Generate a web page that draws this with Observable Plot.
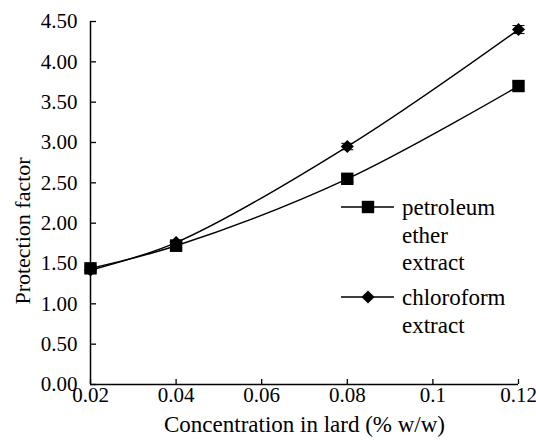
<!DOCTYPE html>
<html><head><meta charset="utf-8">
<script src="https://cdn.jsdelivr.net/npm/d3@7"></script>
<script src="https://cdn.jsdelivr.net/npm/@observablehq/plot@0.6"></script>
<style>
body{margin:0;background:#fff;}
#chart{width:536px;height:444px;}
</style>
</head><body><div id="chart"></div>
<script>
// ---- data ----
const concentrations = [0.02, 0.04, 0.08, 0.12];
const petroleum = [1.44, 1.72, 2.55, 3.70];
const petroleumErr = [0.03, 0.03, 0.04, 0.05];
const chloroform = [1.42, 1.76, 2.95, 4.40];
const chloroformErr = [0.03, 0.03, 0.04, 0.05];
const xTicks = [0.02, 0.04, 0.06, 0.08, 0.1, 0.12];
const xTickLabels = ["0.02", "0.04", "0.06", "0.08", "0.1", "0.12"];
const yTicks = [0, 0.5, 1, 1.5, 2, 2.5, 3, 3.5, 4, 4.5];
const yTickLabels = ["0.00", "0.50", "1.00", "1.50", "2.00", "2.50", "3.00", "3.50", "4.00", "4.50"];
const seriesNames = ["petroleum ether extract", "chloroform extract"];
const legendLines = [["petroleum", "ether", "extract"], ["chloroform", "extract"]];
const xTitle = "Concentration in lard (% w/w)";
const yTitle = "Protection factor";

// ---- table ----
const rows = [];
concentrations.forEach((c, i) => {
  rows.push({series: seriesNames[0], x: c, y: petroleum[i], lo: petroleum[i] - petroleumErr[i], hi: petroleum[i] + petroleumErr[i]});
  rows.push({series: seriesNames[1], x: c, y: chloroform[i], lo: chloroform[i] - chloroformErr[i], hi: chloroform[i] + chloroformErr[i]});
});
const capSymbol = {draw(ctx) { ctx.moveTo(-6, 0); ctx.lineTo(6, 0); }};
const FONT = "'Liberation Serif', serif";

const chart = Plot.plot({
  width: 536, height: 444,
  marginLeft: 90, marginRight: 18, marginTop: 21, marginBottom: 60,
  style: {fontFamily: FONT, fontSize: "21px", color: "#000", background: "#fff", overflow: "visible"},
  x: {domain: [xTicks[0], xTicks[xTicks.length - 1]]},
  y: {domain: [yTicks[0], yTicks[yTicks.length - 1]]},
  marks: [
    Plot.axisY({ticks: yTicks, tickFormat: d => yTickLabels[yTicks.indexOf(d)], tickSize: -6, tickPadding: 19, fontSize: 21, label: null, strokeWidth: 1.3}),
    Plot.axisX({ticks: xTicks, tickFormat: d => xTickLabels[xTicks.indexOf(d)], tickSize: -5, tickPadding: 8, fontSize: 21, label: null, strokeWidth: 1.3}),
    Plot.ruleX([xTicks[0]], {stroke: "#000", strokeWidth: 1.5}),
    Plot.ruleY([yTicks[0]], {stroke: "#000", strokeWidth: 1.5}),
    Plot.line(rows, {x: "x", y: "y", z: "series", curve: "catmull-rom", stroke: "#000", strokeWidth: 1.4}),
    Plot.ruleX(rows, {x: "x", y1: "lo", y2: "hi", stroke: "#000", strokeWidth: 1}),
    Plot.dot(rows, {x: "x", y: "lo", symbol: capSymbol, stroke: "#000", strokeWidth: 1}),
    Plot.dot(rows, {x: "x", y: "hi", symbol: capSymbol, stroke: "#000", strokeWidth: 1}),
    Plot.dot(rows.filter(d => d.series === seriesNames[0]), {x: "x", y: "y", symbol: "square", r: 7, fill: "#000", stroke: "none"}),
    Plot.dot(rows.filter(d => d.series === seriesNames[1]), {x: "x", y: "y", symbol: "diamond2", r: 5.9, fill: "#000", stroke: "none"}),
    Plot.text([yTitle], {text: d => d, frameAnchor: "left", textAnchor: "middle", dx: -68, dy: 28, rotate: -90, fontSize: 22, fill: "#000"}),
    Plot.text([xTitle], {text: d => d, frameAnchor: "bottom", textAnchor: "middle", dy: 47, fontSize: 23, fill: "#000"})
  ]
});
document.getElementById("chart").appendChild(chart);

// ---- legend (inside plot area) ----
const svg = d3.select(chart);
const lg = svg.append("g").attr("font-size", 23).attr("fill", "#000").attr("text-anchor", "start");
const legendItems = [
  {lines: legendLines[0], y: 207, symbol: d3.symbolSquare, size: 49 * Math.PI},
  {lines: legendLines[1], y: 297, symbol: d3.symbolDiamond2, size: 5.9 * 5.9 * Math.PI}
];
legendItems.forEach(item => {
  lg.append("line").attr("x1", 341).attr("x2", 394).attr("y1", item.y).attr("y2", item.y)
    .attr("stroke", "#000").attr("stroke-width", 1.4);
  lg.append("path").attr("d", d3.symbol(item.symbol, item.size)()).attr("transform", `translate(368,${item.y})`).attr("fill", "#000");
  item.lines.forEach((t, j) => {
    lg.append("text").attr("x", 402).attr("y", item.y + 8 + j * 27.5).attr("text-anchor", "start").text(t);
  });
});

// force serif font: drop Plot's generated class and set the family inline everywhere
chart.removeAttribute("class");
svg.attr("font-family", "Liberation Serif").style("font-family", FONT, "important");
svg.selectAll("g").attr("font-family", "Liberation Serif").style("font-family", FONT, "important");
svg.selectAll("text").attr("font-family", "Liberation Serif").style("font-family", FONT, "important");
</script>
</body></html>
